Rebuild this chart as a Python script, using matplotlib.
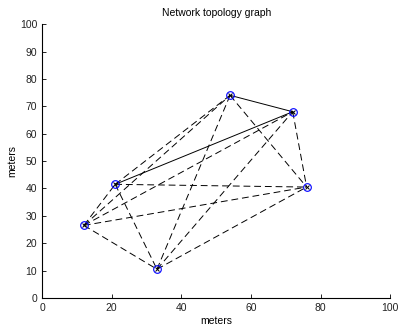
import matplotlib
matplotlib.use("Agg")
import matplotlib.pyplot as plt

plt.rcParams['font.family'] = ['Liberation Sans', 'DejaVu Sans']

# node positions (meters)
node_x = [12, 21, 33, 54, 72, 76]
node_y = [26.5, 41.5, 10.5, 74, 68, 40.5]

# links between nodes (index pairs), solid ones drawn separately
dashed_links = [(0, 1), (0, 2), (0, 3), (0, 4), (0, 5),
                (1, 2), (1, 3), (1, 5),
                (2, 3), (2, 4), (2, 5),
                (3, 5), (4, 5)]
solid_links = [(3, 4), (1, 4)]

fig = plt.figure(figsize=(4.01, 3.26), dpi=100)
ax = fig.add_axes([0.105, 0.086, 0.868, 0.840])

for i, j in dashed_links:
    ax.plot([node_x[i], node_x[j]], [node_y[i], node_y[j]], color='black',
            linewidth=0.7, dashes=(7, 4))
for i, j in solid_links:
    ax.plot([node_x[i], node_x[j]], [node_y[i], node_y[j]], color='black',
            linewidth=0.7)

ax.plot(node_x, node_y, linestyle='none', marker='x', color='black',
        markersize=3, markeredgewidth=0.7)
ax.plot(node_x, node_y, linestyle='none', marker='o', markerfacecolor='none',
        markeredgecolor='blue', markersize=5.5, markeredgewidth=0.8)

ax.set_xlim(0, 100)
ax.set_ylim(0, 100)
ax.set_xticks(range(0, 101, 20))
ax.set_yticks(range(0, 101, 10))
ax.spines['top'].set_visible(False)
ax.spines['right'].set_visible(False)
ax.tick_params(direction='in', length=3, width=0.7, labelsize=7.5, colors='#222222')
for s in ['left', 'bottom']:
    ax.spines[s].set_linewidth(0.8)

ax.set_title('Network topology graph', fontsize=7.5, pad=6)
ax.set_xlabel('meters', fontsize=7.5, labelpad=2)
ax.set_ylabel('meters', fontsize=7.5, labelpad=2)

plt.savefig('out.png', dpi=100)
